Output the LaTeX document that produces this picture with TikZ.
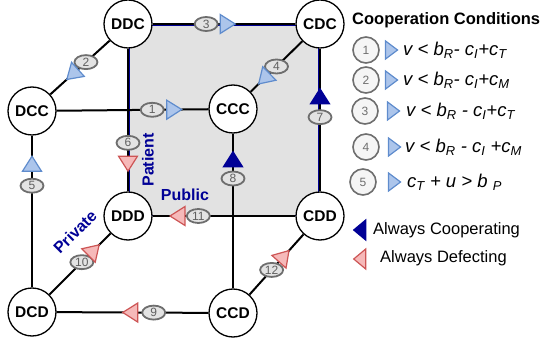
\documentclass[tikz,border=0pt]{standalone}
\usepackage{fontspec}
\setmainfont{Liberation Sans}
\usetikzlibrary{shapes.geometric}
\definecolor{lbfill}{RGB}{172,197,235}
\definecolor{lbdraw}{RGB}{95,140,205}
\definecolor{rfill}{RGB}{246,185,185}
\definecolor{rdraw}{RGB}{205,85,85}
\definecolor{navy}{RGB}{0,0,150}
\definecolor{facegray}{RGB}{226,226,226}
\definecolor{labgray}{RGB}{110,110,110}
\tikzset{
  state/.style={circle, draw, line width=1.3pt, fill=white, minimum size=48pt, inner sep=0pt,
    font=\bfseries\fontsize{15.5}{15.5}\selectfont},
  edge/.style={line width=2pt},
  tri/.style={isosceles triangle, isosceles triangle stretches, minimum height=15pt, minimum width=19pt,
    inner sep=0pt, line width=1.2pt},
  etri/.style={tri, sloped, allow upside down},
  lb/.style={etri, fill=lbfill, draw=lbdraw},
  rd/.style={etri, fill=rfill, draw=rdraw},
  db/.style={etri, fill=navy, draw=navy},
  lab/.style={ellipse, fill=gray!22, draw=labgray, line width=1.8pt, minimum width=23pt, minimum height=14pt,
    inner sep=0pt, text=gray!75!black, font=\fontsize{12}{12}\selectfont},
  lc/.style={circle, draw=labgray, fill=gray!8, line width=1.6pt, minimum size=26pt, inner sep=0pt,
    text=labgray, font=\fontsize{12}{12}\selectfont},
  ltri/.style={tri, minimum height=12pt, minimum width=18pt, fill=lbfill, draw=lbdraw},
  formula/.style={anchor=west, inner sep=0pt, font=\itshape\fontsize{18.5}{18.5}\selectfont},
  tag/.style={text=navy, inner sep=0pt, font=\bfseries\fontsize{16}{16}\selectfont},
  legtext/.style={anchor=west, inner sep=0pt, font=\fontsize{16.5}{16.5}\selectfont}
}
\begin{document}
\begin{tikzpicture}[x=1pt,y=-1pt]
\useasboundingbox (0,0) rectangle (545,344);
% back face
\path[fill=facegray, draw=navy, line width=0.8pt] (129.5,25) rectangle (318.5,215);
% states
\node[state] (ddc) at (128,24) {DDC};
\node[state] (cdc) at (320,24) {CDC};
\node[state] (dcc) at (32,111) {DCC};
\node[state] (ccc) at (233,109) {CCC};
\node[state] (ddd) at (128,216) {DDD};
\node[state] (cdd) at (320,216) {CDD};
\node[state] (dcd) at (32,312) {DCD};
\node[state] (ccd) at (233,313) {CCD};
% edges
\draw[edge] (ddc) -- node[lab,pos=.66]{6} node[rd,pos=.79]{} (ddd);
\draw[edge] (ccd) -- node[lab,pos=.71]{8} node[db,pos=.82]{} (ccc);
\draw[edge] (dcc) -- node[lab,pos=.63]{1} node[lb,pos=.76]{} (ccc);
\draw[edge] (cdd) -- node[lab,pos=.68]{11} node[rd,pos=.81]{} (ddd);
\draw[edge] (ddc) -- node[lab,pos=.375]{3} node[lb,pos=.51]{} (cdc);
\draw[edge] (ddc) -- node[lab,pos=.40]{2} node[lb,pos=.60]{} (dcc);
\draw[edge] (cdc) -- node[lab,pos=.50]{4} node[lb,pos=.71]{} (ccc);
\draw[edge] (dcd) -- node[lab,pos=.67]{5} node[lb,pos=.80]{} (dcc);
\draw[edge] (cdd) -- node[lab,pos=.52]{7} node[db,pos=.65]{} (cdc);
\draw[edge] (ccd) -- node[lab,pos=.36]{9} node[rd,pos=.50]{} (dcd);
\draw[edge] (dcd) -- node[lab,pos=.53]{10} node[rd,pos=.70]{} (ddd);
\draw[edge] (ccd) -- node[lab,pos=.41]{12} node[rd,pos=.61]{} (cdd);
% tags
\node[tag, rotate=90] (patient) at (148,160) {Patient};
\node[tag] (public) at (185,195) {Public};
\node[tag, rotate=45] (private) at (75,232) {Private};
% legend
\node[anchor=west, inner sep=0pt, font=\bfseries\fontsize{16.5}{16.5}\selectfont] (title) at (352,20) {Cooperation Conditions};
\node[lc] (c1) at (366,50) {1};
\node[lc] (c2) at (366,80) {2};
\node[lc] (c3) at (365,111) {3};
\node[lc] (c4) at (366,147) {4};
\node[lc] (c5) at (363,182) {5};
\node[ltri] (t1) at (390,50) {};
\node[ltri] (t2) at (390,80) {};
\node[ltri] (t3) at (392,111) {};
\node[ltri] (t4) at (393,147) {};
\node[ltri] (t5) at (393,182) {};
\node[formula] (f1) at (403,50) {v < b\textsubscript{R}- c\textsubscript{I}+c\textsubscript{T}};
\node[formula] (f2) at (403,80) {v < b\textsubscript{R}- c\textsubscript{I}+c\textsubscript{M}};
\node[formula] (f3) at (406,111) {v < b\textsubscript{R} - c\textsubscript{I}+c\textsubscript{T}};
\node[formula] (f4) at (405,147) {v < b\textsubscript{R} - c\textsubscript{I} +c\textsubscript{M}};
\node[formula] (f5) at (407,182) {c\textsubscript{T} + u > b \textsubscript{P}};
\node[tri, rotate=180, minimum height=12pt, minimum width=20pt, fill=navy, draw=navy] (acT) at (361,230) {};
\node[legtext] (ac) at (373,230) {Always Cooperating};
\node[tri, rotate=180, minimum height=12pt, minimum width=20pt, fill=rfill, draw=rdraw] (adT) at (361,259) {};
\node[legtext] (ad) at (380,258) {Always Defecting};
\end{tikzpicture}
\end{document}
